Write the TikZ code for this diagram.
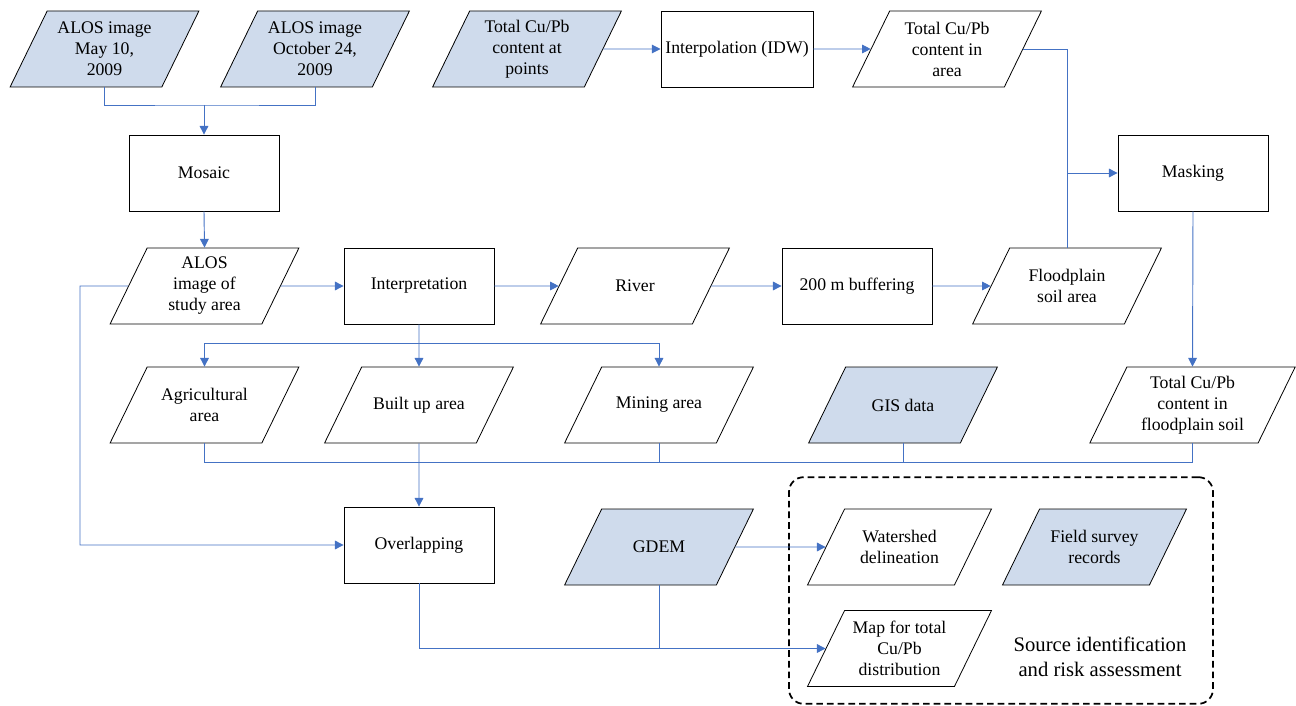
\documentclass[tikz,border=0pt]{standalone}
\usepackage{fontspec}
\setmainfont{Liberation Serif}
\usepackage{tikz}
\usetikzlibrary{shapes.geometric}
\usetikzlibrary{arrows.meta}
\usetikzlibrary{calc}

\definecolor{databg}{RGB}{207,219,236}
\definecolor{flowblue}{RGB}{68,114,196}

\begin{document}
\begin{tikzpicture}[x=0.75pt, y=-0.75pt,
    every node/.style={font=\fontsize{13.3}{15.75}\selectfont},
    dbw/.store in=\dboxw, dbw=86pt,
    databox/.style={trapezium, trapezium left angle=64, trapezium right angle=116,
        trapezium stretches body, draw=black, line width=0.6pt,
        minimum width=141pt, inner xsep=0pt, inner ysep=4.5pt,
        execute at begin node={\begin{minipage}[c][48pt][c]{\dboxw}\centering},
        execute at end node={\end{minipage}}},
    inbox/.style={databox, fill=databg},
    procbox/.style={rectangle, draw=black, line width=0.6pt, align=center,
        minimum width=112.5pt, minimum height=57pt},
    link/.style={draw=flowblue, line width=0.7pt},
    flow/.style={link, -{Triangle[length=6.5pt, width=6.5pt]}}]
    \useasboundingbox (0,0) rectangle (1296,706);

    % Input data (top row)
    \node[inbox] (alosmay) at (104.5,49) {ALOS image\\May 10,\\2009};
    \node[inbox] (alosoct) at (315,49) {ALOS image\\October 24,\\2009};
    \node[inbox] (cupoints) at (527,49) {Total Cu/Pb\\content at\\points};
    \node[procbox] (idw) at (737,49) {Interpolation (IDW)};
    \node[databox] (cuarea) at (947,49) {Total Cu/Pb\\content in\\area};

    % Mosaic and masking
    \node[procbox] (mosaic) at (204,173) {Mosaic};
    \node[procbox] (masking) at (1193,173) {Masking};

    % Interpretation row
    \node[databox] (alosstudy) at (204.5,286) {ALOS\\image of\\study area};
    \node[procbox] (interp) at (419,286) {Interpretation};
    \node[databox] (river) at (635,286) {River};
    \node[procbox] (buffer) at (857,286) {200 m buffering};
    \node[databox] (flood) at (1067,286) {Floodplain\\soil area};

    % Classified areas
    \node[databox] (agri) at (204.5,405) {Agricultural\\area};
    \node[databox] (builtup) at (419,405) {Built up area};
    \node[databox] (mining) at (659,405) {Mining area};
    \node[inbox] (gis) at (903,405) {GIS data};
    \node[databox, minimum width=154pt, dbw=98pt] (cuflood) at (1192.5,405) {Total Cu/Pb\\content in\\floodplain soil};

    % Overlapping row
    \node[procbox] (overlap) at (419,545) {Overlapping};
    \node[inbox] (gdem) at (659,547) {GDEM};

    % Source identification and risk assessment
    \node[draw=black, line width=1.3pt, dash pattern=on 5pt off 3pt, rounded corners=11pt,
        minimum width=318pt, minimum height=170pt] (assess) at (1001,590.5) {};
    \node[databox, minimum width=138pt, dbw=82pt] (watershed) at (899.5,547) {Watershed\\delineation};
    \node[inbox, minimum width=138pt, dbw=82pt] (survey) at (1094.5,547) {Field survey\\records};
    \node[databox, minimum width=138pt, dbw=82pt] (cumap) at (899.5,648.5) {Map for total\\Cu/Pb\\distribution};
    \node[font=\fontsize{15.5}{19}\selectfont, align=center] (assesslbl) at (1100,657) {Source identification\\and risk assessment};

    % Connectors
    \coordinate (mosjoin) at (204,105);
    \draw[link] (alosmay.south) |- (mosjoin) -| (alosoct.south);
    \draw[flow] (mosjoin) -- (mosaic.north);
    \draw[flow] (mosaic.south) -- (alosstudy.north);

    \draw[flow] (cupoints.east) -- (idw.west);
    \draw[flow] (idw.east) -- (cuarea.west);
    \draw[link] (cuarea.east) -| (flood.north);
    \draw[flow] (flood.north |- masking.west) -- (masking.west);
    \draw[flow] (masking.south) -- (cuflood.north);

    \draw[flow] (alosstudy.east) -- (interp.west);
    \draw[flow] (interp.east) -- (river.west);
    \draw[flow] (river.east) -- (buffer.west);
    \draw[flow] (buffer.east) -- (flood.west);

    \coordinate (leftrun) at (80,286);
    \draw[flow] (alosstudy.west) -- (leftrun) |- (overlap.west);

    \coordinate (split) at (419,343);
    \draw[flow] (interp.south) -- (builtup.north);
    \draw[flow] (split) -| (agri.north);
    \draw[flow] (split) -| (mining.north);

    \coordinate (merge) at (419,462);
    \draw[link] (agri.south) |- (cuflood.south |- merge) -- (cuflood.south);
    \draw[link] (mining.south) -- (mining.south |- merge);
    \draw[link] (gis.south) -- (gis.south |- merge);
    \draw[flow] (builtup.south) -- (overlap.north);

    \draw[flow] (gdem.east) -- (watershed.west);
    \draw[flow] (overlap.south) |- (cumap.west);
    \draw[link] (gdem.south) -- (gdem.south |- cumap.west);

\end{tikzpicture}
\end{document}
